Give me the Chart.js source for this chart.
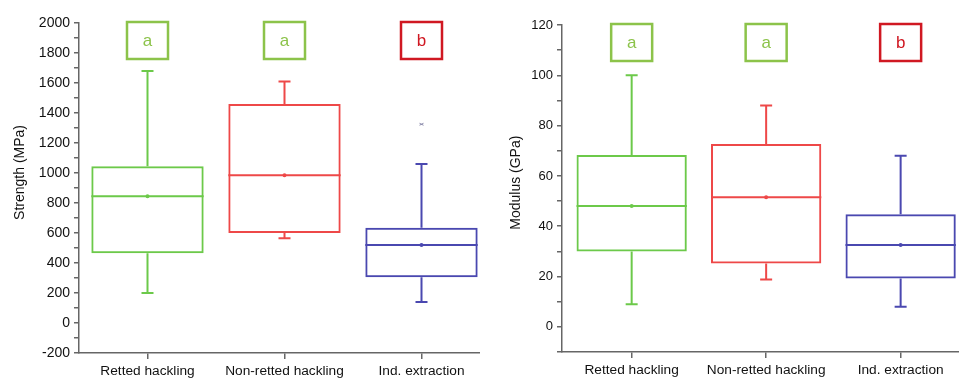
<!DOCTYPE html>
<html>
<head>
<meta charset="utf-8">
<script src="https://cdn.jsdelivr.net/npm/chart.js@4"></script>
<style>
  html, body { margin: 0; padding: 0; background: #fff; }
  #wrap { position: relative; width: 959px; height: 379px; overflow: hidden; }
  #left  { position: absolute; left: 0;   top: 0; }
  #right { position: absolute; left: 480px; top: 0; }
</style>
</head>
<body>
<div id="wrap">
  <canvas id="left" width="480" height="379"></canvas>
  <canvas id="right" width="479" height="379"></canvas>
</div>
<script>
// Categorias e letras de grupo (teste estatístico)
const categories   = ["Retted hackling", "Non-retted hackling", "Ind. extraction"];
const groupLetters = ["a", "a", "b"];

// Resistência (MPa)
const strengthMin      = [200, 565, 140];
const strengthQ1       = [465, 600, 305];
const strengthMedian   = [845, 985, 520];
const strengthMean     = [845, 985, 520];
const strengthQ3       = [1045, 1460, 635];
const strengthMax      = [1680, 1610, 1060];
const strengthOutliers = [[], [], [1325]];
const strengthTicks    = { min: -200, max: 2000, step: 100 };

// Módulo (GPa)
const modulusMin      = [9, 18.8, 8];
const modulusQ1       = [30, 25.2, 19.2];
const modulusMedian   = [48, 51.5, 32.5];
const modulusMean     = [48, 51.5, 32.5];
const modulusQ3       = [68.3, 72.7, 44.8];
const modulusMax      = [100, 88, 68];
const modulusOutliers = [[], [], []];
const modulusTicks    = { min: -10, max: 120, step: 10 };

const boxColors    = ["#6cc94a", "#ee4848", "#4a48b0"];
const letterColors = ["#8cc34a", "#8cc34a", "#d01822"];
const axisColor = "#666";
const FONT = "'Liberation Sans', Arial, sans-serif";

// Desenha bigodes, medianas, médias, outliers e caixas de letras
const boxExtras = {
    id: "boxExtras",
    afterDatasetsDraw(chart, args, opts) {
        const { ctx, chartArea } = chart;
        const x = chart.scales.x, y = chart.scales.y;
        const s = opts.stats;
        const half = x.getPixelForValue(0.41) - x.getPixelForValue(0);
        ctx.save();
        categories.forEach((_, i) => {
            const cx = x.getPixelForValue(i);
            ctx.strokeStyle = boxColors[i];
            ctx.fillStyle = boxColors[i];
            ctx.lineWidth = 2;
            ctx.beginPath();
            // bigodes
            ctx.moveTo(cx, y.getPixelForValue(s.q3[i]));
            ctx.lineTo(cx, y.getPixelForValue(s.max[i]));
            ctx.moveTo(cx - 6, y.getPixelForValue(s.max[i]));
            ctx.lineTo(cx + 6, y.getPixelForValue(s.max[i]));
            ctx.moveTo(cx, y.getPixelForValue(s.q1[i]));
            ctx.lineTo(cx, y.getPixelForValue(s.min[i]));
            ctx.moveTo(cx - 6, y.getPixelForValue(s.min[i]));
            ctx.lineTo(cx + 6, y.getPixelForValue(s.min[i]));
            // mediana
            ctx.moveTo(cx - half, y.getPixelForValue(s.median[i]));
            ctx.lineTo(cx + half, y.getPixelForValue(s.median[i]));
            ctx.stroke();
            // média
            ctx.beginPath();
            ctx.arc(cx, y.getPixelForValue(s.mean[i]), 2, 0, Math.PI * 2);
            ctx.fill();
            // outliers
            ctx.strokeStyle = "#8888aa";
            ctx.lineWidth = 1;
            s.outliers[i].forEach(v => {
                const py = y.getPixelForValue(v);
                ctx.beginPath();
                ctx.moveTo(cx - 2, py - 1); ctx.lineTo(cx + 2, py + 1);
                ctx.moveTo(cx - 2, py + 1); ctx.lineTo(cx + 2, py - 1);
                ctx.stroke();
            });
            // caixa da letra
            const top = chartArea.top - 1;
            ctx.strokeStyle = letterColors[i];
            ctx.lineWidth = 2.5;
            ctx.strokeRect(cx - 20.5, top, 41, 37);
            ctx.fillStyle = letterColors[i];
            ctx.font = "17px " + FONT;
            ctx.textAlign = "center";
            ctx.textBaseline = "middle";
            ctx.fillText(groupLetters[i], cx, top + 19);
        });
        ctx.restore();
    }
};

function criarPainel(canvasId, cfg) {
    const data = categories.map((_, i) => ({ x: i, y: [cfg.q1[i], cfg.q3[i]] }));
    return new Chart(document.getElementById(canvasId), {
        type: "bar",
        data: {
            datasets: [{
                data: data,
                backgroundColor: "rgba(0,0,0,0)",
                borderColor: boxColors,
                borderWidth: 2,
                borderSkipped: false,
                barPercentage: 0.82,
                categoryPercentage: 1
            }]
        },
        plugins: [boxExtras],
        options: {
            responsive: false,
            animation: false,
            layout: { padding: { top: cfg.top, right: 0, left: 0, bottom: 0 } },
            plugins: {
                legend: { display: false },
                tooltip: { enabled: false },
                boxExtras: { stats: cfg }
            },
            scales: {
                x: {
                    type: "linear",
                    min: cfg.xMin,
                    max: cfg.xMax,
                    offset: false,
                    afterBuildTicks: sc => { sc.ticks = categories.map((_, i) => ({ value: i })); },
                    afterFit: sc => { sc.height = 379 - cfg.bottom; },
                    ticks: {
                        callback: v => categories[v] ?? "",
                        color: "#111",
                        font: { family: FONT, size: 13.7 },
                        padding: 4,
                        maxRotation: 0,
                        autoSkip: false
                    },
                    grid: { offset: false, drawOnChartArea: false, tickLength: 6, color: axisColor, lineWidth: 1.5 },
                    border: { color: axisColor, width: 1.5 }
                },
                y: {
                    min: cfg.ticks.min,
                    max: cfg.ticks.max,
                    afterFit: sc => { sc.width = cfg.left; },
                    ticks: {
                        stepSize: cfg.ticks.step,
                        autoSkip: false,
                        callback: v => (Math.round(v / cfg.ticks.step) % 2 === 0 ? v : ""),
                        color: "#111",
                        font: { family: FONT, size: cfg.tickSize },
                        padding: 4
                    },
                    grid: { drawOnChartArea: false, tickLength: 5, color: axisColor, lineWidth: 1.5 },
                    border: { color: axisColor, width: 1.5 },
                    title: {
                        display: true,
                        text: cfg.title,
                        color: "#111",
                        font: { family: FONT, size: 14 },
                        padding: { top: cfg.titleX, bottom: 0 }
                    }
                }
            }
        }
    });
}

criarPainel("left", {
    min: strengthMin, q1: strengthQ1, median: strengthMedian, mean: strengthMean,
    q3: strengthQ3, max: strengthMax, outliers: strengthOutliers, ticks: strengthTicks,
    title: "        Strength (MPa)", tickSize: 14, titleX: 12,
    left: 79, top: 23, bottom: 353, xMin: -0.5, xMax: 2.427
});

criarPainel("right", {
    min: modulusMin, q1: modulusQ1, median: modulusMedian, mean: modulusMean,
    q3: modulusQ3, max: modulusMax, outliers: modulusOutliers, ticks: modulusTicks,
    title: "   Modulus (GPa)", tickSize: 13, titleX: 28,
    left: 82, top: 25, bottom: 352, xMin: -0.518, xMax: 2.434
});
</script>
</body>
</html>
